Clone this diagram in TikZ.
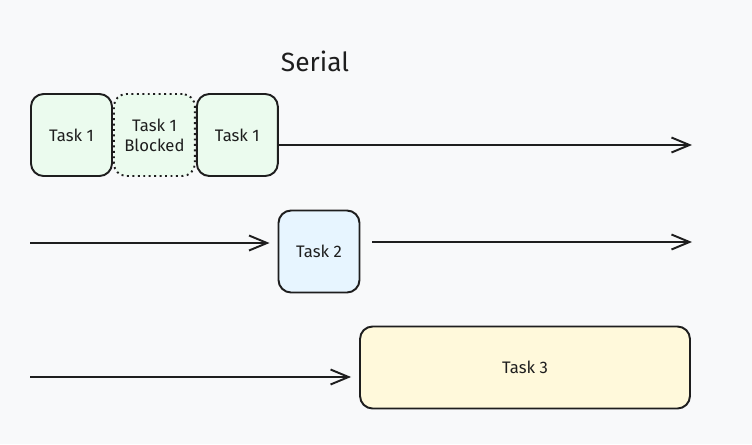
\documentclass[tikz,border=0pt]{standalone}
\usepackage{fontspec}
\setmainfont{Fira Sans}
\usetikzlibrary{arrows.meta,positioning}
\definecolor{bgcol}{HTML}{F8F9FA}
\definecolor{greenfill}{HTML}{EBFBEE}
\definecolor{bluefill}{HTML}{E7F5FF}
\definecolor{yellowfill}{HTML}{FFF9DB}
\definecolor{inkcol}{HTML}{1E1E1E}
\begin{document}
\begin{tikzpicture}[x=0.02cm, y=-0.02cm,
    task/.style={shape=rectangle, draw=inkcol, rounded corners=0.25cm, line width=1.1pt, minimum height=1.64cm, minimum width=1.62cm, inner sep=0pt, align=center, font=\fontsize{9.5}{11.5}\selectfont, text=inkcol},
    flow/.style={-{Straight Barb[length=0.36cm, width=0.3cm]}, line width=1.1pt, draw=inkcol}]
    \fill[bgcol] (0,0) rectangle (752,444);
    \node[font=\fontsize{15}{18}\selectfont, text=inkcol] (title) at (315,61) {Serial};
    % first row
    \node[task, fill=greenfill] (task1a) at (71.5,135) {Task 1};
    \node[task, fill=greenfill, dotted, right=0pt of task1a] (task1blocked) {Task 1\\Blocked};
    \node[task, fill=greenfill, right=0pt of task1blocked] (task1b) {Task 1};
    \coordinate (end1) at (692,145);
    \draw[flow] (task1b.east |- end1) -- (end1);
    % second row
    \node[task, fill=bluefill] (task2) at (319,251.5) {Task 2};
    \coordinate (start2) at (30,243);
    \coordinate (end2) at (692,242);
    \draw[flow, shorten >=0.16cm] (start2) -- (start2 -| task2.west);
    \draw[flow, shorten <=0.24cm] (task2.east |- end2) -- (end2);
    % third row
    \node[task, fill=yellowfill, minimum width=6.6cm] (task3) at (525,367.5) {Task 3};
    \coordinate (start3) at (30,377);
    \draw[flow, shorten >=0.16cm] (start3) -- (start3 -| task3.west);
\end{tikzpicture}
\end{document}
